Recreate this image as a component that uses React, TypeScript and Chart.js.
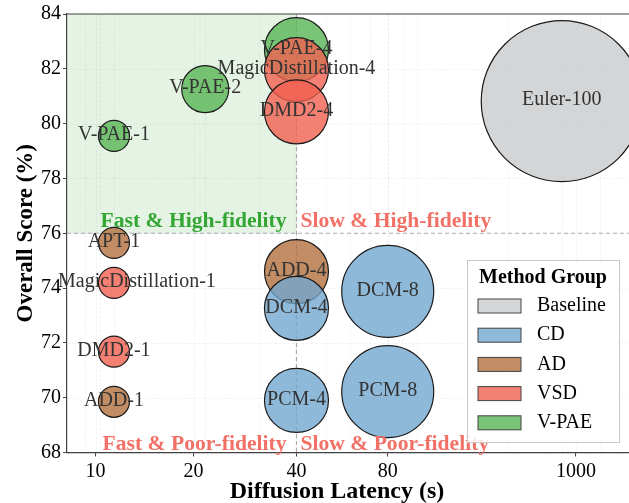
import React, { useEffect, useRef } from 'react';
import { Chart, registerables } from 'chart.js';

Chart.register(...registerables);

// ---------- data ----------
const METHODS = [
  'Euler-100', 'V-PAE-4', 'MagicDistillation-4', 'DMD2-4', 'V-PAE-2', 'V-PAE-1',
  'APT-1', 'MagicDistillation-1', 'DMD2-1', 'ADD-1', 'ADD-4', 'DCM-4', 'PCM-4', 'DCM-8', 'PCM-8',
];
const METHOD_GROUP = [
  'Baseline', 'V-PAE', 'VSD', 'VSD', 'V-PAE', 'V-PAE',
  'AD', 'VSD', 'VSD', 'AD', 'AD', 'CD', 'CD', 'CD', 'CD',
];
const LATENCY_S = [300, 40, 40, 40, 20, 10, 10, 10, 10, 10, 40, 40, 40, 80, 80];
const OVERALL_SCORE = [
  80.82, 82.7, 81.97, 80.43, 81.26, 79.55, 75.65, 74.19, 71.68, 69.85, 74.6, 73.26, 69.9, 73.88, 70.22,
];

const LEGEND_GROUPS = ['Baseline', 'CD', 'AD', 'VSD', 'V-PAE'];
const X_TICK_VALUES = [8.7, 18.3, 40, 80, 334];
const X_TICK_LABELS = ['10', '20', '40', '80', '1000'];
const Y_TICK_STEP = 2;
const X_RANGE = [7, 500];
const Y_RANGE = [68, 84];
const X_SPLIT = 40;
const Y_SPLIT = 76;

// ---------- style ----------
const SERIF = "'Liberation Serif', 'Times New Roman', serif";
const GROUP_COLOR: Record<string, string> = {
  Baseline: 'rgba(200,203,205,0.8)',
  CD: 'rgba(115,167,206,0.8)',
  AD: 'rgba(179,111,63,0.8)',
  VSD: 'rgba(241,96,81,0.8)',
  'V-PAE': 'rgba(89,181,86,0.8)',
};
const RADIUS_BY_LATENCY: Record<number, number> = { 10: 15.5, 20: 23.5, 40: 32, 80: 46, 300: 80.5 };
const LABEL_NUDGE_X: Record<string, number> = { 'MagicDistillation-1': 23 };
const GREEN_TEXT = '#33a633';
const RED_TEXT = '#f27166';

const decorPlugin = {
  id: 'decor',
  beforeDatasetsDraw(chart: any) {
    const { ctx, chartArea: ca, scales } = chart;
    const xs = scales.x, ys = scales.y;
    ctx.save();
    // shaded fast & high-fidelity zone
    const xSplit = xs.getPixelForValue(X_SPLIT);
    const ySplit = ys.getPixelForValue(Y_SPLIT);
    ctx.fillStyle = 'rgba(44,160,44,0.13)';
    ctx.fillRect(ca.left, ca.top, xSplit - ca.left, ySplit - ca.top);

    // grid
    ctx.strokeStyle = 'rgba(0,0,0,0.06)';
    ctx.lineWidth = 0.8;
    ctx.setLineDash([3, 1.5]);
    for (let v = Y_RANGE[0]; v <= Y_RANGE[1]; v += Y_TICK_STEP) {
      const y = Math.round(ys.getPixelForValue(v)) + 0.5;
      ctx.beginPath(); ctx.moveTo(ca.left, y); ctx.lineTo(ca.right, y); ctx.stroke();
    }
    const gx = [] as number[];
    for (let e = 0; e <= 3; e++) for (let m = 1; m <= 9; m++) {
      const v = m * Math.pow(10, e);
      if (v > X_RANGE[0] && v < X_RANGE[1]) gx.push(v);
    }
    X_TICK_VALUES.forEach(v => gx.push(v));
    gx.forEach(v => {
      const x = Math.round(xs.getPixelForValue(v)) + 0.5;
      ctx.beginPath(); ctx.moveTo(x, ca.top); ctx.lineTo(x, ca.bottom); ctx.stroke();
    });

    // split lines
    ctx.strokeStyle = '#aaaaaa';
    ctx.lineWidth = 1.2;
    ctx.setLineDash([4, 3]);
    ctx.beginPath(); ctx.moveTo(xSplit, ca.top); ctx.lineTo(xSplit, ca.bottom); ctx.stroke();
    ctx.beginPath(); ctx.moveTo(ca.left, ySplit); ctx.lineTo(ca.right, ySplit); ctx.stroke();

    // top spine
    ctx.setLineDash([]);
    ctx.strokeStyle = '#444';
    ctx.lineWidth = 1.2;
    ctx.beginPath(); ctx.moveTo(ca.left, ca.top); ctx.lineTo(ca.right, ca.top); ctx.stroke();
    ctx.restore();
  },
  afterDatasetsDraw(chart: any) {
    const { ctx, chartArea: ca, scales } = chart;
    const xs = scales.x, ys = scales.y;
    const meta = chart.getDatasetMeta(0);
    const ds = chart.data.datasets[0] as any;
    ctx.save();
    // bubble labels
    ctx.font = `20px ${SERIF}`;
    ctx.fillStyle = '#333';
    ctx.textAlign = 'center';
    ctx.textBaseline = 'middle';
    meta.data.forEach((el: any, i: number) => {
      const name = ds.names[i];
      ctx.fillText(name, el.x + (LABEL_NUDGE_X[name] || 0), el.y - 1);
    });

    // quadrant labels
    const xSplit = xs.getPixelForValue(X_SPLIT);
    const ySplit = ys.getPixelForValue(Y_SPLIT);
    ctx.font = `bold 21.6px ${SERIF}`;
    ctx.textBaseline = 'alphabetic';
    ctx.textAlign = 'right';
    ctx.fillStyle = GREEN_TEXT;
    ctx.fillText('Fast & High-fidelity', xSplit - 10, ySplit - 6);
    ctx.fillStyle = RED_TEXT;
    ctx.fillText('Fast & Poor-fidelity', xSplit - 10, ca.bottom - 3);
    ctx.textAlign = 'left';
    ctx.fillText('Slow & High-fidelity', xSplit + 4, ySplit - 6);
    ctx.fillText('Slow & Poor-fidelity', xSplit + 4, ca.bottom - 3);

    // legend
    const w = 152, h = 182;
    const lx = ca.right - 10 - w, ly = ca.bottom - 10.5 - h;
    ctx.fillStyle = 'rgba(255,255,255,0.85)';
    ctx.fillRect(lx, ly, w, h);
    ctx.strokeStyle = '#c8c8c8';
    ctx.lineWidth = 1;
    ctx.strokeRect(Math.round(lx) + 0.5, Math.round(ly) + 0.5, w, h);
    ctx.fillStyle = '#000';
    ctx.font = `bold 20px ${SERIF}`;
    ctx.textAlign = 'center';
    ctx.textBaseline = 'middle';
    ctx.fillText('Method Group', lx + w / 2, ly + 18);
    ctx.font = `20px ${SERIF}`;
    ctx.textAlign = 'left';
    LEGEND_GROUPS.forEach((g, i) => {
      const cy = ly + 46 + i * 29.2;
      ctx.fillStyle = GROUP_COLOR[g];
      ctx.fillRect(lx + 11, cy - 7, 43, 14);
      ctx.strokeStyle = '#444';
      ctx.lineWidth = 1;
      ctx.strokeRect(lx + 11, cy - 7, 43, 14);
      ctx.fillStyle = '#000';
      ctx.fillText(g, lx + 70, cy);
    });

    // axis titles
    ctx.font = `bold 24px ${SERIF}`;
    ctx.fillStyle = '#000';
    ctx.textAlign = 'center';
    ctx.textBaseline = 'alphabetic';
    ctx.fillText('Diffusion Latency (s)', 337, ca.bottom + 45.5);
    ctx.translate(32, (ca.top + ca.bottom) / 2);
    ctx.rotate(-Math.PI / 2);
    ctx.font = `bold 23px ${SERIF}`;
    ctx.fillText('Overall Score (%)', 0, 0);
    ctx.restore();
  },
};

export default function App() {
  const ref = useRef<HTMLCanvasElement>(null);
  useEffect(() => {
    if (!ref.current) return;
    const order = METHODS.map((_, i) => i).sort((a, b) => OVERALL_SCORE[b] - OVERALL_SCORE[a]);
    const chart = new Chart(ref.current, {
      type: 'bubble',
      data: {
        datasets: [{
          data: order.map(i => ({ x: LATENCY_S[i], y: OVERALL_SCORE[i], r: RADIUS_BY_LATENCY[LATENCY_S[i]] })),
          backgroundColor: order.map(i => GROUP_COLOR[METHOD_GROUP[i]]),
          borderColor: '#1a1a1a',
          borderWidth: 1.2,
          names: order.map(i => METHODS[i]),
        } as any],
      },
      options: {
        responsive: false,
        animation: false,
        events: [],
        layout: { autoPadding: false, padding: { top: 14, left: 0, right: 0, bottom: 0 } },
        plugins: { legend: { display: false }, tooltip: { enabled: false } },
        scales: {
          x: {
            type: 'logarithmic',
            min: X_RANGE[0],
            max: X_RANGE[1],
            afterBuildTicks: (s: any) => { s.ticks = X_TICK_VALUES.map(v => ({ value: v })); },
            afterFit: (s: any) => { s.height = 50.5; },
            ticks: {
              callback: (_v: any, i: number) => X_TICK_LABELS[i],
              autoSkip: false, maxRotation: 0, padding: 3,
              color: '#000', font: { family: SERIF, size: 20 },
            },
            grid: { drawOnChartArea: false, tickLength: 4, tickColor: '#444' },
            border: { color: '#444', width: 1.2 },
          },
          y: {
            min: Y_RANGE[0],
            max: Y_RANGE[1],
            afterFit: (s: any) => { s.width = 67; },
            ticks: { stepSize: Y_TICK_STEP, padding: 2, color: '#000', font: { family: SERIF, size: 20 } },
            grid: { drawOnChartArea: false, tickLength: 4, tickColor: '#444' },
            border: { color: '#444', width: 1.2 },
          },
        },
      },
      plugins: [decorPlugin],
    });
    return () => chart.destroy();
  }, []);
  return (
    <div style={{ position: 'absolute', left: 0, top: 0, width: 629, height: 503, background: '#fff' }}>
      <canvas ref={ref} width={629} height={503} style={{ display: 'block' }} />
    </div>
  );
}
